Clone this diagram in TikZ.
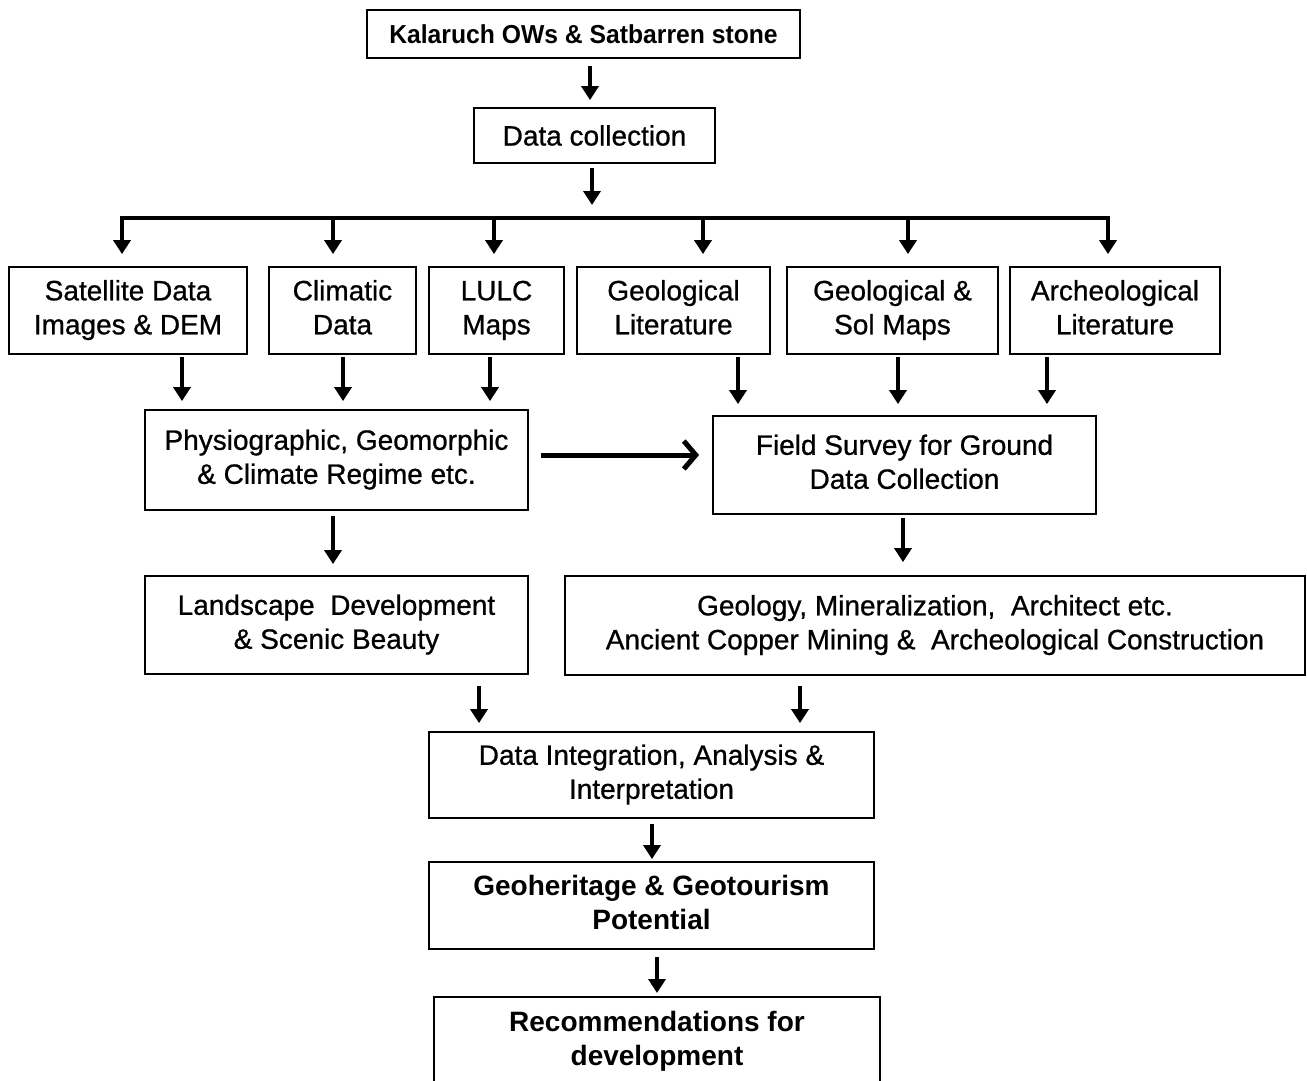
\documentclass[tikz,border=0pt]{standalone}
\usepackage{fontspec}
\setmainfont{Liberation Sans}
\newfontfamily\heavyfont{Liberation Sans}[UprightFeatures={FakeBold=0.8}]
\usetikzlibrary{arrows.meta}
\begin{document}
\begin{tikzpicture}[x=1pt,y=-1pt,
  box/.style={draw=black,line width=1.8pt,inner sep=0pt,align=center,
    font=\fontsize{28}{34}\selectfont\heavyfont},
  bbox/.style={box,font=\fontsize{28}{34}\selectfont\bfseries},
  arr/.style={line width=4pt,-{Triangle[length=14pt,width=17pt]}},
  openarr/.style={line width=5pt,-{Straight Barb[length=12pt,width=28pt,line width=5pt]}},
  busline/.style={line width=4pt}]
\useasboundingbox (0,0) rectangle (1307,1081);
% boxes
\node[box,minimum width=433,minimum height=48] (title) at (583.5,34)
  {\fontsize{26}{30}\selectfont\bfseries\scalebox{0.95}[1]{Kalaruch OWs \& Satbarren stone}};
\node[box,minimum width=241,minimum height=55] (dc) at (594.5,135.5) {Data collection};
\node[box,minimum width=238,minimum height=87] (sat) at (128,310.5) {\strut Satellite Data\\Images \& DEM\strut};
\node[box,minimum width=147,minimum height=87] (clim) at (342.5,310.5) {\strut Climatic\\Data\strut};
\node[box,minimum width=135,minimum height=87] (lulc) at (496.5,310.5) {\strut LULC\\Maps\strut};
\node[box,minimum width=193,minimum height=87] (geolit) at (673.5,310.5) {\strut Geological\\Literature\strut};
\node[box,minimum width=211,minimum height=87] (geosol) at (892.5,310.5) {\strut Geological \&\\Sol Maps\strut};
\node[box,minimum width=210,minimum height=87] (arch) at (1115,310.5) {\strut Archeological\\Literature\strut};
\node[box,minimum width=383,minimum height=100] (phys) at (336.5,460) {\strut Physiographic, Geomorphic\\\& Climate Regime etc.\strut};
\node[box,minimum width=383,minimum height=98] (field) at (904.5,465) {\strut Field Survey for Ground\\Data Collection\strut};
\node[box,minimum width=383,minimum height=98] (land) at (336.5,625) {\strut Landscape\ \ Development\\\& Scenic Beauty\strut};
\node[box,minimum width=740,minimum height=99] (geo) at (935,625.5) {\strut Geology, Mineralization,\ \ Architect etc.\\Ancient Copper Mining \&\ \ Archeological Construction\strut};
\node[box,minimum width=445,minimum height=86] (integ) at (651.5,775) {\strut Data Integration, Analysis \&\\Interpretation\strut};
\node[bbox,minimum width=445,minimum height=87] (heri) at (651.5,905.5) {\strut Geoheritage \& Geotourism\\Potential\strut};
\node[bbox,minimum width=446,minimum height=110,anchor=north] (rec) at (657,996) {};
\node[font=\fontsize{28}{34}\selectfont\bfseries,align=center,inner sep=0pt] (rectext) at (657,1042) {\strut Recommendations for\\development\strut};
% top arrows
\coordinate (t1) at (590,58);
\draw[arr,shorten <=8pt,shorten >=7pt] (t1) -- (t1 |- dc.north);
\coordinate (d1) at (592,163);
\coordinate (busM) at (592,218);
\draw[arr,shorten <=5pt,shorten >=13pt] (d1) -- (busM);
% bus
\coordinate (b1) at (122,218);
\coordinate (b2) at (333,218);
\coordinate (b3) at (494,218);
\coordinate (b4) at (703,218);
\coordinate (b5) at (908,218);
\coordinate (b6) at (1108,218);
\draw[busline,line cap=rect] (b1) -- (b6);
\draw[arr,shorten >=12pt] (b1) -- (b1 |- sat.north);
\draw[arr,shorten >=12pt] (b2) -- (b2 |- clim.north);
\draw[arr,shorten >=12pt] (b3) -- (b3 |- lulc.north);
\draw[arr,shorten >=12pt] (b4) -- (b4 |- geolit.north);
\draw[arr,shorten >=12pt] (b5) -- (b5 |- geosol.north);
\draw[arr,shorten >=12pt] (b6) -- (b6 |- arch.north);
% row to physio / field
\coordinate (r1) at (182,354);
\coordinate (r2) at (343,354);
\coordinate (r3) at (490,354);
\coordinate (r4) at (738,354);
\coordinate (r5) at (898,354);
\coordinate (r6) at (1047,354);
\draw[arr,shorten <=3pt,shorten >=8pt] (r1) -- (r1 |- phys.north);
\draw[arr,shorten <=3pt,shorten >=8pt] (r2) -- (r2 |- phys.north);
\draw[arr,shorten <=3pt,shorten >=8pt] (r3) -- (r3 |- phys.north);
\draw[arr,shorten <=3pt,shorten >=11pt] (r4) -- (r4 |- field.north);
\draw[arr,shorten <=3pt,shorten >=11pt] (r5) -- (r5 |- field.north);
\draw[arr,shorten <=3pt,shorten >=11pt] (r6) -- (r6 |- field.north);
% horizontal
\coordinate (h1) at (528,455);
\draw[openarr,shorten <=13pt,shorten >=13pt] (h1) -- (h1 -| field.west);
% physio -> landscape, field -> geo
\coordinate (p1) at (333,510);
\draw[arr,shorten <=6pt,shorten >=11pt] (p1) -- (p1 |- land.north);
\coordinate (f1) at (903,514);
\draw[arr,shorten <=4pt,shorten >=13pt] (f1) -- (f1 |- geo.north);
% to integration
\coordinate (l1) at (479,674);
\draw[arr,shorten <=12pt,shorten >=8pt] (l1) -- (l1 |- integ.north);
\coordinate (g1) at (800,675);
\draw[arr,shorten <=11pt,shorten >=8pt] (g1) -- (g1 |- integ.north);
% lower chain
\coordinate (i1) at (652,818);
\draw[arr,shorten <=6pt,shorten >=2pt] (i1) -- (i1 |- heri.north);
\coordinate (k1) at (657,949);
\draw[arr,shorten <=8pt,shorten >=3pt] (k1) -- (k1 |- rec.north);
\end{tikzpicture}
\end{document}
